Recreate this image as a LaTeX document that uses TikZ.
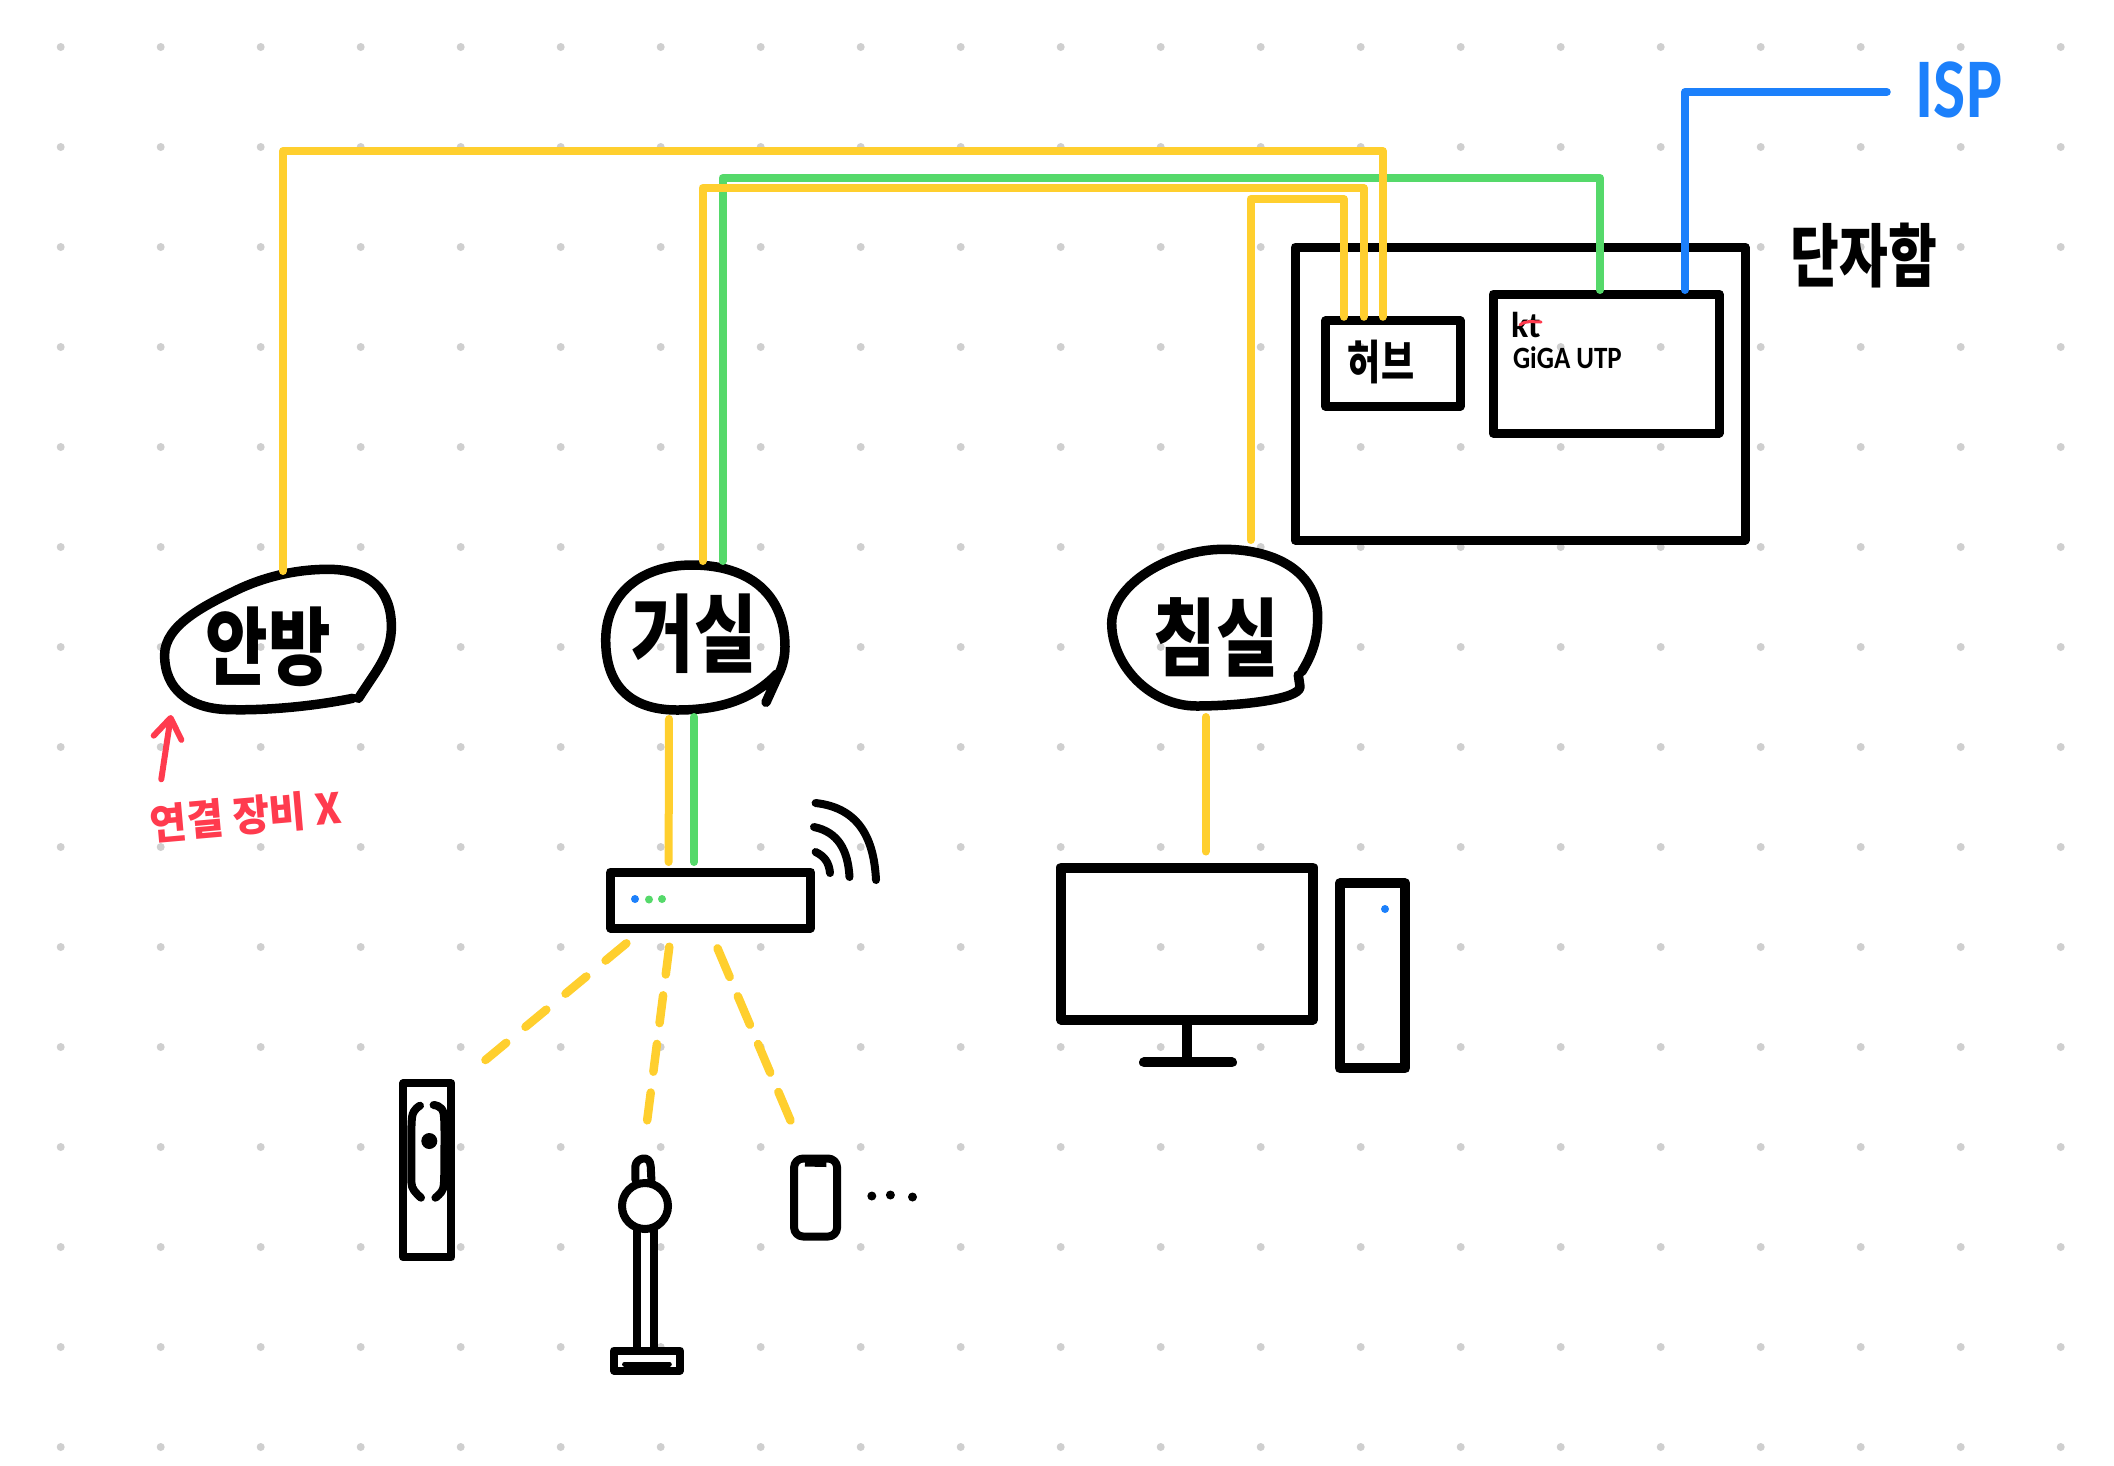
\documentclass[tikz,border=0pt]{standalone}
\usepackage{fontspec}
\usepackage{xcolor}
\usetikzlibrary{arrows.meta, positioning, calc}
\setmainfont{Carlito}
\newfontfamily\krfont{Noto Sans CJK KR}
\definecolor{cableyellow}{HTML}{FFCF2E}
\definecolor{cablegreen}{HTML}{55D96A}
\definecolor{cableblue}{HTML}{1C80FB}
\definecolor{notered}{HTML}{FF3B4E}
\definecolor{griddot}{HTML}{CFCFCF}
\newcommand{\tallkr}[2]{\scalebox{1}[#1]{\krfont\bfseries #2}}

\begin{document}
\begin{tikzpicture}[
    x=1pt, y=-1pt,
    every node/.style={inner sep=0pt, outer sep=0pt, align=center},
    box/.style={rectangle, draw=black, line width=9pt, line join=round},
    device/.style={rectangle, draw=black, line width=8pt, line join=round},
    room/.style={rectangle, minimum width=150pt},
    blob/.style={line width=9.5pt, line cap=round, line join=round},
    thinstroke/.style={line width=8pt, line cap=round, line join=round},
    cable/.style={line width=8pt, line cap=round, line join=round},
    air/.style={line width=8.5pt, line cap=round, draw=cableyellow}
  ]
    \useasboundingbox (0,0) rectangle (2114,1465);
    \foreach \i in {0,...,20} {
      \foreach \j in {0,...,14} {
        \fill[griddot] ({60.7+100*\i},{47+100*\j}) circle (4pt);
      }
    }

    % wiring closet
    \node[box, minimum width=450pt, minimum height=293pt] (closet) at (1520,393.5) {};
    \node[box, minimum width=134.5pt, minimum height=85.5pt] (hub) at (1392.75,363.5) {};
    \node[box, minimum width=226pt, minimum height=139pt] (modem) at (1606,363.5) {};
    \node[font=\fontsize{53}{53}\selectfont] (closettext) at (1864,256) {\tallkr{1.3}{단자함}};
    \node[font=\fontsize{36}{36}\selectfont] (hubtext) at (1381,362) {\tallkr{1.3}{허브}};
    \node[font=\fontsize{36}{36}\selectfont\bfseries, anchor=west] (kttext) at (1511,325) {kt};
    \draw[notered, line width=3pt, line cap=round] (1520,325) .. controls (1526,320) and (1532,322) .. (1541,322);
    \node[font=\fontsize{31}{31}\selectfont\bfseries, anchor=west] (gigatext) at (1513,358) {\scalebox{.87}[1]{GiGA UTP}};
    \node[font=\fontsize{85}{85}\selectfont\bfseries, text=cableblue] (isp) at (1959,90) {\scalebox{.8}[1]{ISP}};

    % rooms
    \node[room, minimum height=152pt] (anbang) at (268,647) {\fontsize{68}{68}\selectfont\tallkr{1.25}{안방}};
    \draw[blob] (352.7,698.3) .. controls (315,706) and (265,711) .. (226,709.5)
      .. controls (190,708) and (164.6,690) .. (164.6,655)
      .. controls (164.6,625) and (205,605) .. (241,588)
      .. controls (270,575) and (300,569.3) .. (328,569.3)
      .. controls (370,569.3) and (391.4,590) .. (391.4,626.7)
      .. controls (391.4,655) and (375,672) .. (358.5,698.3);
    \node[room, minimum height=146pt] (living) at (694,634) {\fontsize{68}{68}\selectfont\tallkr{1.25}{거실}};
    \draw[blob] (776.8,674) .. controls (750,702) and (715,710) .. (677,710)
      .. controls (635,710) and (605.7,690) .. (605.7,640)
      .. controls (605.7,595) and (640,565) .. (692,565)
      .. controls (750,565) and (785,595) .. (785,646.7)
      .. controls (785,656) and (783,665) .. (779.2,673.3) -- (766,702.3);
    \node[room, minimum height=160pt] (bedroom) at (1216,637) {\fontsize{68}{68}\selectfont\tallkr{1.25}{침실}};
    \draw[blob] (1301.7,671.7) .. controls (1312,655) and (1317.7,640) .. (1317.7,616.7)
      .. controls (1317.7,575) and (1280,549.3) .. (1223.3,549.3)
      .. controls (1170,549.3) and (1111.7,585) .. (1111.7,623.3)
      .. controls (1111.7,665) and (1150,706) .. (1196.7,706)
      .. controls (1235,706) and (1300,700) .. (1300,686.7) -- (1298.3,675);

    % note under the main room
    \node[rotate=5, font=\fontsize{40}{40}\selectfont, text=notered] (notelabel) at (246,816) {\tallkr{1.05}{연결 장비 X}};
    \draw[notered, line width=6pt, line cap=round, -{Straight Barb[round, length=20pt, width=28pt]}] ([xshift=-83pt,yshift=17pt]notelabel.north) -- ([xshift=-97pt,yshift=8pt]anbang.south);

    % router
    \node[box, minimum width=200pt, minimum height=56pt] (router) at (710.6,900) {};
    \fill[cableblue] (635,899) circle (4pt);
    \fill[cablegreen] (649,899.5) circle (4pt);
    \fill[cablegreen] (662,899) circle (4pt);
    \draw[thinstroke] (815.6,803) .. controls (860,808) and (874,840) .. (876,880);
    \draw[thinstroke] (814,827) .. controls (838,832) and (848,850) .. (849.5,877);
    \draw[thinstroke] (815.6,852) .. controls (824,856) and (829,862) .. (830,873);

    % pc
    \node[rectangle, draw=black, line width=10pt, line join=round, minimum width=252pt, minimum height=152pt] (monitor) at (1187,943.5) {};
    \node[rectangle, draw=black, line width=10pt, line join=round, minimum width=65.6pt, minimum height=185pt] (tower) at (1372.5,975.8) {};
    \coordinate (standbase) at (1186.7,1062.4);
    \draw[line width=10pt] (monitor.south) ++(-0.3,0) -- (standbase);
    \draw[line width=10pt, line cap=round] (1144,1062.4) -- (1232,1062.4);
    \fill[cableblue] (1385,909) circle (4pt);

    % wireless devices
    \node[device, minimum width=48.2pt, minimum height=174pt] (washer) at (427.3,1170.3) {};
    \draw[thinstroke] plot[smooth] coordinates {(420,1105.7) (412.1,1116.7) (411.4,1163.3) (412.1,1186.7) (421,1197.7)};
    \draw[thinstroke] plot[smooth] coordinates {(433.6,1105) (443.6,1113.3) (444.3,1163.3) (443.2,1188.3) (435.4,1197.7)};
    \fill (429.3,1141) circle (8pt);

    \node[circle, draw=black, line width=8pt, minimum size=46pt] (vacuum) at (645,1206) {};
    \draw[thinstroke] (635.4,1180) -- (635.4,1166) .. controls (636,1158) and (650,1154) .. (650.7,1166) -- (651.4,1180);
    \draw[line width=8pt] (637.1,1229) -- (637.1,1351);
    \draw[line width=8pt] (654.3,1229) -- (654.3,1351);
    \node[device, minimum width=66pt, minimum height=20pt] (vacuumbase) at (647,1360.5) {};
    \draw[line width=5pt, line cap=round] (624.6,1364) -- (669.3,1364);

    \node[device, rounded corners=9pt, minimum width=43pt, minimum height=78pt] (phone) at (815.6,1197.5) {};
    \draw[line width=6pt] (805,1163.5) -- (826.4,1164);
    \foreach \x/\y in {871.8/1196, 890.4/1195, 912.5/1197} {\fill (\x,\y) circle (4.5pt);}

    % cables
    \draw[cable, draw=cablegreen, shorten >=4pt] ([xshift=28.5pt]living.north) -- ++(0,-383) -| ([xshift=-6pt]modem.north);
    \draw[cable, draw=cableyellow, shorten >=4pt] ([xshift=15pt]anbang.north) -- ++(0,-420) -| ([xshift=-10pt]hub.north);
    \draw[cable, draw=cableyellow, shorten >=4pt] ([xshift=8.5pt]living.north) -- ++(0,-373) -| ([xshift=-29pt]hub.north);
    \draw[cable, draw=cableyellow, shorten <=17pt, shorten >=4pt] ([xshift=34.5pt]bedroom.north) -- ++(0,-358) -| ([xshift=-49pt]hub.north);
    \draw[cable, draw=cableblue, shorten <=4pt] ([xshift=79pt]modem.north) |- ([xshift=-29pt]isp.west |- 0,92);
    \draw[cable, draw=cableyellow, shorten <=12pt, shorten >=10pt] ([xshift=-25pt]living.south) -- ([xshift=-42pt]router.north);
    \draw[cable, draw=cablegreen, shorten <=10pt, shorten >=10pt] (living.south) -- ([xshift=-16.6pt]router.north);
    \draw[cable, draw=cableyellow, shorten >=16pt] ([xshift=-10.3pt]bedroom.south) -- ([xshift=18.7pt]monitor.north);

    % wifi links
    \draw[air, dash pattern=on 27pt off 25pt] ([xshift=-84.2pt,yshift=-15.3pt]router.south) -- ([xshift=57.3pt,yshift=22.6pt]washer.north);
    \draw[air, dash pattern=on 28pt off 21pt] ([xshift=-41.3pt,yshift=-18.7pt]router.south) -- ([xshift=1.8pt,yshift=59.7pt]vacuum.north);
    \draw[air, dash pattern=on 31pt off 21pt] ([xshift=6.9pt,yshift=-20.3pt]router.south) -- ([xshift=-23.8pt,yshift=35pt]phone.north);
  \end{tikzpicture}
\end{document}
